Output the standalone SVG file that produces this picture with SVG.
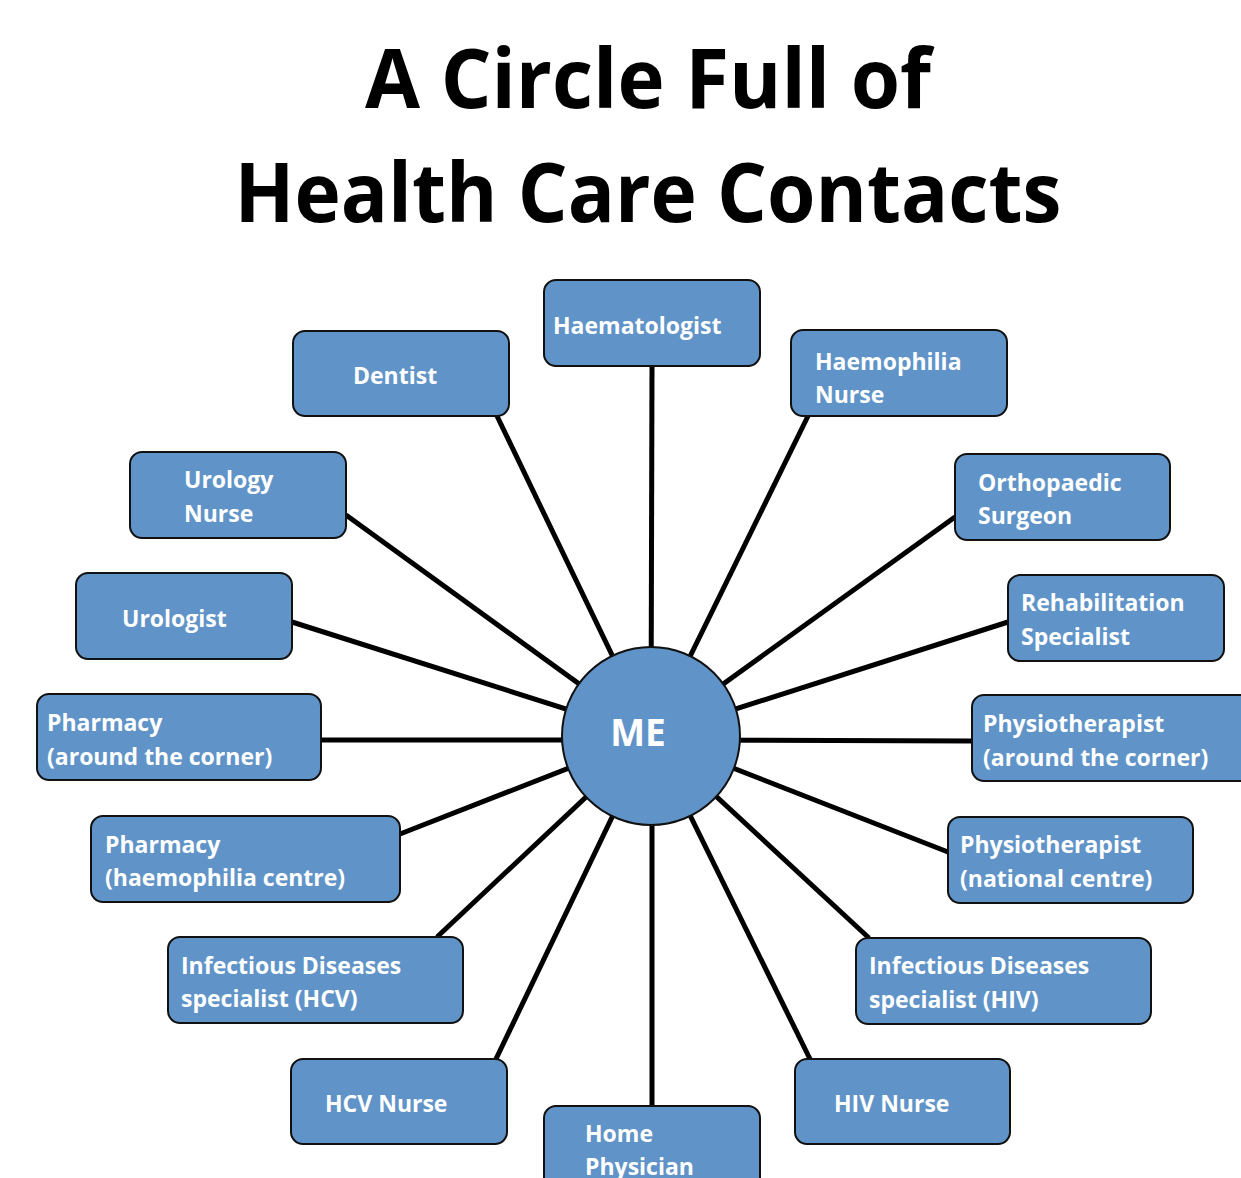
<svg xmlns="http://www.w3.org/2000/svg" width="1241" height="1178" viewBox="0 0 1241 1178">
<style>
.title{font-family:"Open Sans","Liberation Sans",sans-serif;font-weight:700;font-size:82px;fill:#000}
.box{fill:#6094c8;stroke:#111;stroke-width:2}
.lbl{font-family:"Open Sans","Liberation Sans",sans-serif;font-weight:700;font-size:23px;fill:#fff}
.me{font-family:"Open Sans","Liberation Sans",sans-serif;font-weight:700;font-size:37px;fill:#fff}
.conn line{stroke:#000;stroke-width:5}
</style>
<rect width="1241" height="1178" fill="#fff"/>
<text class="title" x="648" y="108" text-anchor="middle" textLength="566" lengthAdjust="spacingAndGlyphs">A Circle Full of</text>
<text class="title" x="648" y="222" text-anchor="middle" textLength="827" lengthAdjust="spacingAndGlyphs">Health Care Contacts</text>
<g id="connectors" class="conn">
<line x1="651" y1="736" x2="652" y2="366"/>
<line x1="651" y1="736" x2="497" y2="416"/>
<line x1="651" y1="736" x2="808" y2="416"/>
<line x1="651" y1="736" x2="346" y2="515"/>
<line x1="651" y1="736" x2="955" y2="517"/>
<line x1="651" y1="736" x2="292" y2="622"/>
<line x1="651" y1="736" x2="1008" y2="622"/>
<line x1="651" y1="740" x2="321" y2="740"/>
<line x1="651" y1="740" x2="972" y2="741"/>
<line x1="651" y1="736" x2="400" y2="834"/>
<line x1="651" y1="736" x2="948" y2="852"/>
<line x1="651" y1="736" x2="437" y2="937"/>
<line x1="651" y1="736" x2="869" y2="938"/>
<line x1="651" y1="736" x2="496" y2="1059"/>
<line x1="651" y1="736" x2="810" y2="1059"/>
<line x1="652" y1="736" x2="652" y2="1106"/>
</g>
<g id="me">
<circle cx="651" cy="736" r="89" fill="#6094c8" stroke="#111" stroke-width="2"/>
<text class="me" x="638" y="746" text-anchor="middle">ME</text>
</g>
<g id="haematologist"><rect class="box" x="544" y="280" width="216" height="86" rx="12"/><text class="lbl" x="553" y="334">Haematologist</text></g>
<g id="dentist"><rect class="box" x="293" y="331" width="216" height="85" rx="12"/><text class="lbl" x="353" y="384">Dentist</text></g>
<g id="haemophilia-nurse"><rect class="box" x="791" y="330" width="216" height="86" rx="12"/><text class="lbl" x="815" y="370">Haemophilia</text><text class="lbl" x="815" y="403">Nurse</text></g>
<g id="urology-nurse"><rect class="box" x="130" y="452" width="216" height="86" rx="12"/><text class="lbl" x="184" y="488">Urology</text><text class="lbl" x="184" y="522">Nurse</text></g>
<g id="orthopaedic-surgeon"><rect class="box" x="955" y="454" width="215" height="86" rx="12"/><text class="lbl" x="978" y="491">Orthopaedic</text><text class="lbl" x="978" y="524">Surgeon</text></g>
<g id="urologist"><rect class="box" x="76" y="573" width="216" height="86" rx="12"/><text class="lbl" x="122" y="627">Urologist</text></g>
<g id="rehabilitation-specialist"><rect class="box" x="1008" y="575" width="216" height="86" rx="12"/><text class="lbl" x="1021" y="611">Rehabilitation</text><text class="lbl" x="1021" y="645">Specialist</text></g>
<g id="pharmacy-corner"><rect class="box" x="37" y="694" width="284" height="86" rx="12"/><text class="lbl" x="47" y="731">Pharmacy</text><text class="lbl" x="47" y="765">(around the corner)</text></g>
<g id="physio-corner"><rect class="box" x="972" y="695" width="284" height="86" rx="12"/><text class="lbl" x="983" y="732">Physiotherapist</text><text class="lbl" x="983" y="766">(around the corner)</text></g>
<g id="pharmacy-centre"><rect class="box" x="91" y="816" width="309" height="86" rx="12"/><text class="lbl" x="105" y="853">Pharmacy</text><text class="lbl" x="105" y="886">(haemophilia centre)</text></g>
<g id="physio-national"><rect class="box" x="948" y="817" width="245" height="86" rx="12"/><text class="lbl" x="960" y="853">Physiotherapist</text><text class="lbl" x="960" y="887">(national centre)</text></g>
<g id="id-hcv"><rect class="box" x="168" y="937" width="295" height="86" rx="12"/><text class="lbl" x="181" y="974">Infectious Diseases</text><text class="lbl" x="181" y="1007">specialist (HCV)</text></g>
<g id="id-hiv"><rect class="box" x="856" y="938" width="295" height="86" rx="12"/><text class="lbl" x="869" y="974">Infectious Diseases</text><text class="lbl" x="869" y="1008">specialist (HIV)</text></g>
<g id="hcv-nurse"><rect class="box" x="291" y="1059" width="216" height="85" rx="12"/><text class="lbl" x="325" y="1112">HCV Nurse</text></g>
<g id="hiv-nurse"><rect class="box" x="795" y="1059" width="215" height="85" rx="12"/><text class="lbl" x="834" y="1112">HIV Nurse</text></g>
<g id="home-physician"><rect class="box" x="544" y="1106" width="216" height="100" rx="12"/><text class="lbl" x="585" y="1142">Home</text><text class="lbl" x="585" y="1175">Physician</text></g>
</svg>
